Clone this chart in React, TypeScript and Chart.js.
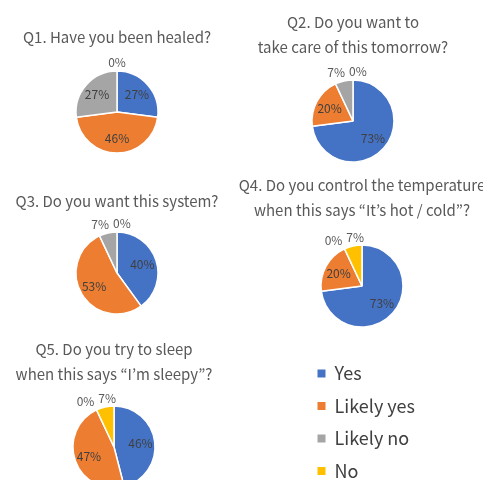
import React, { useEffect, useRef } from "react";
import { Chart, registerables } from "chart.js";

Chart.register(...registerables);

const FONT = '"Noto Sans CJK JP", "Noto Sans", sans-serif';

// Answer categories shared by every question
const answers = ["Yes", "Likely yes", "Likely no", "No"];
const answerColors = ["#4472C4", "#ED7D31", "#A5A5A5", "#FFC000"];

// Survey results, percent of respondents per answer
const q1Title = ["Q1. Have you been healed?"];
const q1Values = [27, 46, 27, 0];

const q2Title = ["Q2. Do you want to", "take care of this tomorrow?"];
const q2Values = [73, 20, 7, 0];

const q3Title = ["Q3. Do you want this system?"];
const q3Values = [40, 53, 7, 0];

const q4Title = ["Q4. Do you control the temperature", "when this says \u201cIt\u2019s hot / cold\u201d?"];
const q4Values = [73, 20, 0, 7];

const q5Title = ["Q5. Do you try to sleep", "when this says \u201cI\u2019m sleepy\u201d?"];
const q5Values = [46, 47, 0, 7];

const LINE = 25; // title line spacing
const RADIUS = 41;

type Panel = { title: string[]; values: number[]; cx: number; cy: number; titleY: number; width: number };

const panels: Panel[] = [
  { title: q1Title, values: q1Values, cx: 117, cy: 112, titleY: 37.5, width: 234 },
  { title: q2Title, values: q2Values, cx: 353, cy: 121, titleY: 22.5, width: 250 },
  { title: q3Title, values: q3Values, cx: 117, cy: 273, titleY: 201, width: 234 },
  { title: q4Title, values: q4Values, cx: 362, cy: 286, titleY: 185, width: 262 },
  { title: q5Title, values: q5Values, cx: 114, cy: 447, titleY: 349, width: 228 },
];

// Percent labels: inside for large slices, above the rim for small ones
const pieLabels = {
  id: "pieLabels",
  afterDatasetsDraw(chart: any) {
    const ctx: CanvasRenderingContext2D = chart.ctx;
    const values = chart.data.datasets[0].data as number[];
    const meta = chart.getDatasetMeta(0);
    ctx.save();
    ctx.font = `12px ${FONT}`;
    ctx.textAlign = "center";
    ctx.textBaseline = "middle";
    const outside: { text: string; w: number; x: number; y: number }[] = [];
    meta.data.forEach((arc: any, i: number) => {
      const { x, y, startAngle, endAngle, outerRadius } = arc.getProps(
        ["x", "y", "startAngle", "endAngle", "outerRadius"],
        true
      );
      const mid = (startAngle + endAngle) / 2;
      const dx = Math.cos(mid);
      const dy = Math.sin(mid);
      const text = `${values[i]}%`;
      if (values[i] >= 10) {
        ctx.fillStyle = "#404040";
        ctx.fillText(text, x + dx * outerRadius * 0.65, y + dy * outerRadius * 0.65);
      } else {
        const w = ctx.measureText(text).width;
        const d = outerRadius + 5;
        outside.push({ text, w, x: x + dx * d + (dx * w) / 2, y: y + dy * d + dy * 4 });
      }
    });
    outside.sort((a, b) => a.x - b.x);
    for (let k = 1; k < outside.length; k++) {
      const a = outside[k - 1];
      const b = outside[k];
      const need = (a.w + b.w) / 2 + 4;
      const gap = b.x - a.x;
      if (gap < need) {
        const push = (need - gap) / 2;
        a.x -= push;
        b.x += push;
      }
    }
    ctx.fillStyle = "#595959";
    outside.forEach((l) => ctx.fillText(l.text, l.x, l.y));
    ctx.restore();
  },
};

function PiePanel({ panel }: { panel: Panel }) {
  const ref = useRef<HTMLCanvasElement>(null);
  const lines = panel.title.length;
  const top = Math.round(panel.titleY - 4 - LINE / 2);
  const chartTop = top + 8 + LINE * lines;
  const height = Math.round(chartTop - top + 2 * (panel.cy - chartTop));
  const left = Math.round(panel.cx - panel.width / 2);

  useEffect(() => {
    const chart = new Chart(ref.current as HTMLCanvasElement, {
      type: "pie",
      data: {
        labels: answers,
        datasets: [
          {
            data: panel.values,
            backgroundColor: answerColors,
            borderColor: "#ffffff",
            borderWidth: 1.5,
          },
        ],
      },
      options: {
        responsive: false,
        animation: false,
        events: [],
        radius: RADIUS,
        layout: { padding: 0 },
        plugins: {
          legend: { display: false },
          tooltip: { enabled: false },
          title: {
            display: true,
            text: panel.title,
            color: "#595959",
            font: { family: FONT, size: 15, weight: "normal", lineHeight: LINE / 15 },
            padding: { top: 4, bottom: 4 },
          },
        },
      } as any,
      plugins: [pieLabels],
    });
    return () => chart.destroy();
  }, []);

  return (
    <canvas
      ref={ref}
      width={panel.width}
      height={height}
      style={{ position: "absolute", left, top, width: panel.width, height }}
    />
  );
}

function LegendPanel() {
  const ref = useRef<HTMLCanvasElement>(null);
  useEffect(() => {
    const chart = new Chart(ref.current as HTMLCanvasElement, {
      type: "pie",
      data: {
        labels: answers,
        datasets: [{ data: q5Values, backgroundColor: answerColors, borderWidth: 0 }],
      },
      options: {
        responsive: false,
        animation: false,
        events: [],
        radius: 0,
        plugins: {
          tooltip: { enabled: false },
          title: { display: false },
          legend: {
            position: "left",
            align: "start",
            labels: {
              boxWidth: 8,
              boxHeight: 8,
              padding: 14.5,
              color: "#404040",
              font: { family: FONT, size: 18 },
            },
          },
        },
      } as any,
    });
    return () => chart.destroy();
  }, []);
  return (
    <canvas
      ref={ref}
      width={400}
      height={170}
      style={{ position: "absolute", left: 303, top: 350, width: 400, height: 170 }}
    />
  );
}

export default function App() {
  return (
    <div
      style={{
        position: "absolute",
        left: 0,
        top: 0,
        width: 483,
        height: 480,
        overflow: "hidden",
        background: "#ffffff",
      }}
    >
      {panels.map((p, i) => (
        <PiePanel key={i} panel={p} />
      ))}
      <LegendPanel />
    </div>
  );
}
